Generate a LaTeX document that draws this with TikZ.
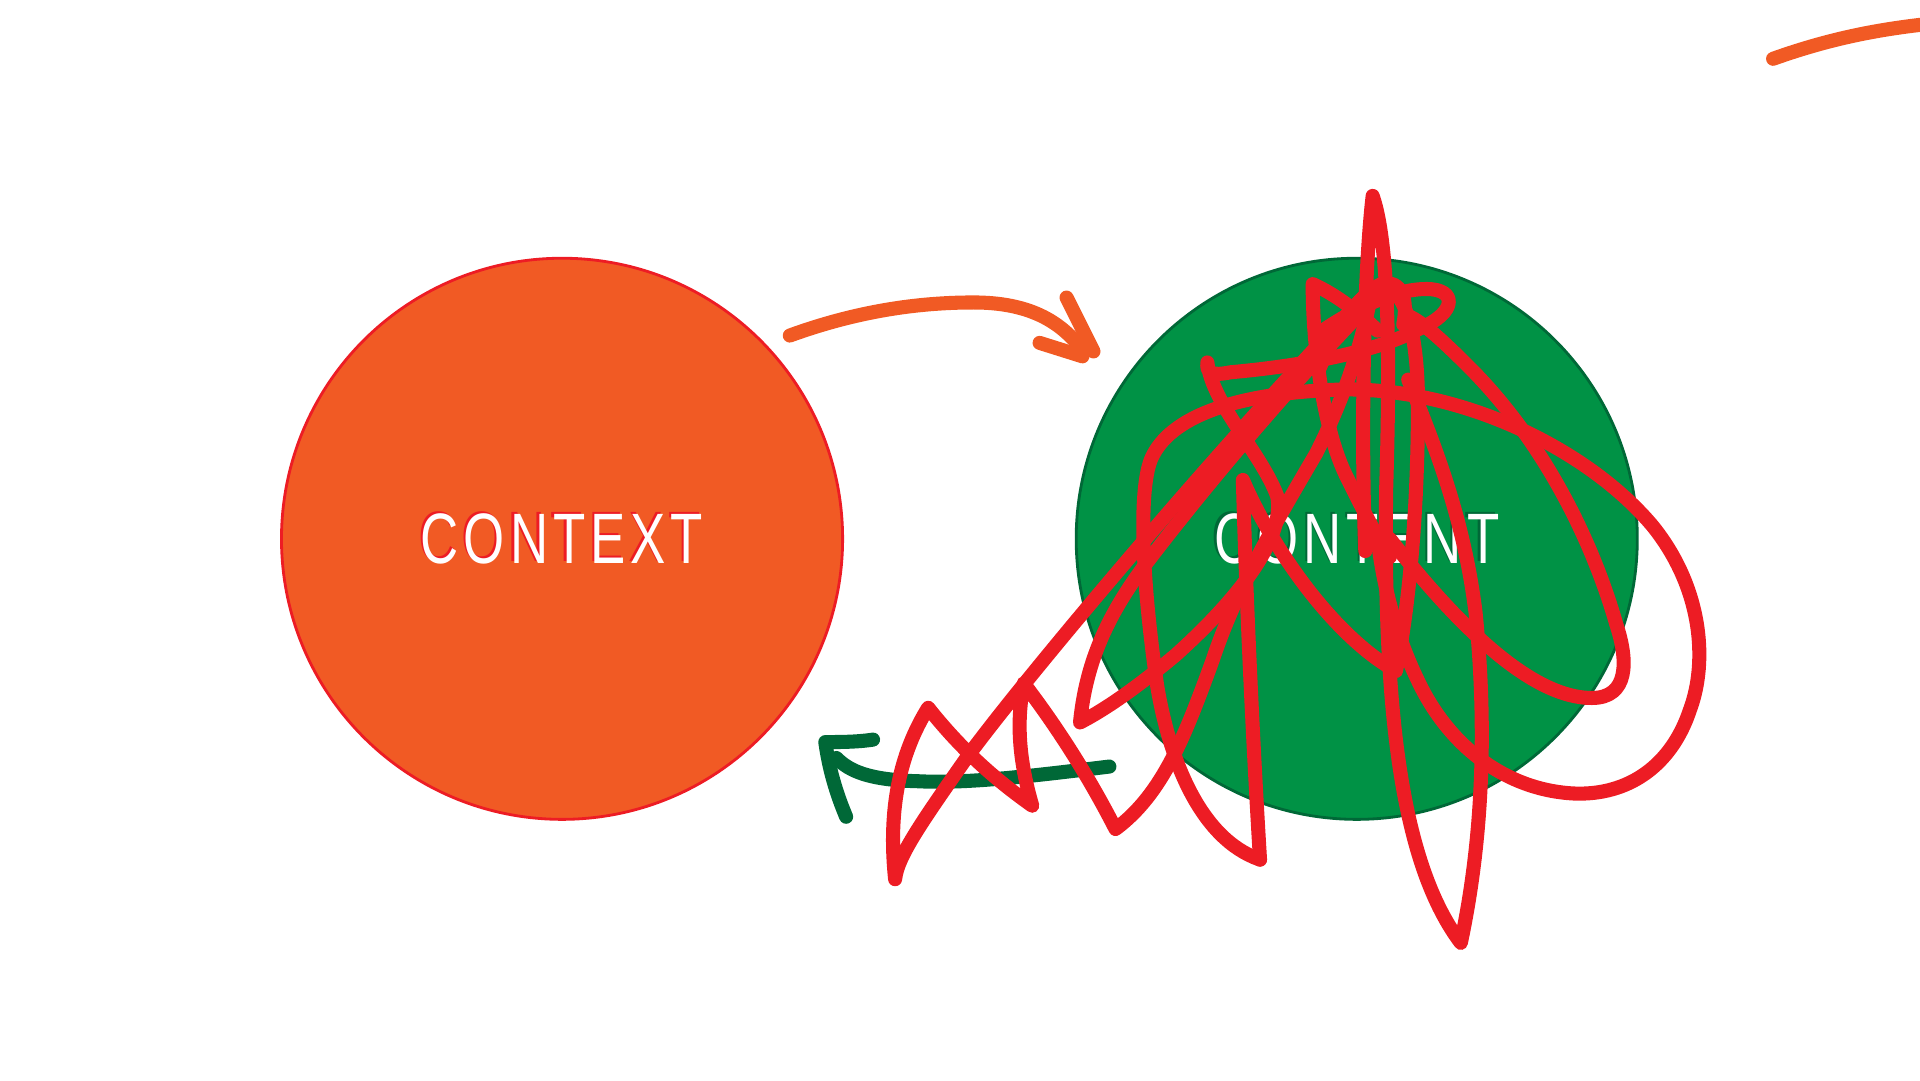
\documentclass[tikz,border=0pt]{standalone}
\usepackage{fontspec}
\newfontfamily\labelfont[FakeStretch=0.74,LetterSpace=7]{Liberation Sans}
\usetikzlibrary{calc}
\definecolor{ctxorange}{HTML}{F15A24}
\definecolor{ctxred}{HTML}{ED1C24}
\definecolor{cntgreen}{HTML}{009245}
\definecolor{cntdark}{HTML}{006837}
\tikzset{
  blob/.style={circle,minimum size=5.608cm,inner sep=0pt,line width=0.8pt},
  word/.style={font=\labelfont\fontsize{20.3}{24}\selectfont,inner sep=0pt},
  sketch/.style={line width=4pt,line cap=round,line join=round},
  scribble/.style={draw=ctxred,line width=4pt,line cap=round,line join=round}
}

\begin{document}
\begin{tikzpicture}[x=0.012245cm,y=-0.012245cm]
  \useasboundingbox (0,0) rectangle (1568,882);
  \node[blob,fill=ctxorange,draw=ctxred] (context) at (459,440) {};
  \node[blob,fill=cntgreen,draw=cntdark] (content) at (1108,440) {};
  \node[word,text=ctxred] at ($(context)+(-1.8,-1.6)$) {CONTEXT};
  \node[word,text=white] (ctxlabel) at (context) {CONTEXT};
  \node[word,text=cntdark] at ($(content)+(-1.8,-1.6)$) {CONTENT};
  \node[word,text=white] (cntlabel) at (content) {CONTENT};

  \coordinate (fwdstart) at (645,274);
  \coordinate (fwdtip) at (884,286);
  \draw[sketch,ctxorange] (fwdstart) .. controls (700,254) and (750,247) .. (795,247)
    .. controls (840,247) and (866,262) .. (fwdtip);
  \draw[sketch,ctxorange] (871,243) -- (893,287);
  \draw[sketch,ctxorange] (849,280) -- (884,291);

  \begin{scope}
    \clip (0,0) rectangle (1568,882);
    \coordinate (farstart) at (1448,48);
    \draw[sketch,ctxorange] (farstart) .. controls (1490,33) and (1530,24) .. (1580,19);
  \end{scope}

  \coordinate (backstart) at (906,626);
  \coordinate (backtip) at (683,619);
  \draw[sketch,cntdark] (backstart) .. controls (840,634) and (790,640) .. (750,638)
    .. controls (710,637) and (694,630) .. (backtip);
  \draw[sketch,cntdark] (713,604) .. controls (700,606) and (685,606) .. (674,606)
    .. controls (677,628) and (683,648) .. (691,667);

  \draw[scribble] (1120,236) .. controls (1000,360) and (840,550) .. (790,618)
    .. controls (750,675) and (733,700) .. (731,718)
    .. controls (725,660) and (735,615) .. (758,578)
    .. controls (785,612) and (812,636) .. (843,658)
    .. controls (832,620) and (830,590) .. (836,558)
    .. controls (862,592) and (888,632) .. (911,677)
    .. controls (950,648) and (968,600) .. (990,540)
    .. controls (1010,480) and (1040,430) .. (1075,370)
    .. controls (1100,320) and (1112,280) .. (1120,240);
  \draw[scribble] (1029,702) .. controls (980,685) and (955,620) .. (945,560)
    .. controls (932,470) and (930,400) .. (940,375)
    .. controls (955,340) and (1010,320) .. (1100,318)
    .. controls (1200,318) and (1300,370) .. (1350,430)
    .. controls (1390,480) and (1395,540) .. (1380,580)
    .. controls (1365,625) and (1330,650) .. (1285,648)
    .. controls (1230,645) and (1185,610) .. (1160,560)
    .. controls (1140,520) and (1130,480) .. (1125,440);
  \draw[scribble] (1029,702) .. controls (1024,620) and (1018,500) .. (1015,392)
    .. controls (1040,450) and (1090,520) .. (1140,548)
    .. controls (1150,500) and (1158,420) .. (1158,330)
    .. controls (1158,280) and (1150,250) .. (1140,240);
  \draw[scribble] (1135,440) .. controls (1190,510) and (1250,570) .. (1300,570)
    .. controls (1330,570) and (1330,540) .. (1320,510)
    .. controls (1300,440) and (1260,360) .. (1200,300)
    .. controls (1175,275) and (1160,262) .. (1150,258);
  \draw[scribble] (1115,450) .. controls (1111,350) and (1114,220) .. (1121,160)
    .. controls (1135,200) and (1135,300) .. (1132,400)
    .. controls (1130,560) and (1140,700) .. (1193,770)
    .. controls (1210,690) and (1215,600) .. (1205,500)
    .. controls (1195,420) and (1170,360) .. (1150,310);
  \draw[scribble] (1080,270) .. controls (1110,250) and (1140,236) .. (1165,236)
    .. controls (1190,236) and (1190,255) .. (1160,268)
    .. controls (1120,290) and (1050,300) .. (1005,304)
    .. controls (990,307) and (985,305) .. (986,296)
    .. controls (990,330) and (1030,370) .. (1043,405)
    .. controls (1050,440) and (1010,490) .. (960,535)
    .. controls (930,560) and (905,578) .. (882,590)
    .. controls (887,540) and (905,500) .. (940,455)
    .. controls (990,390) and (1050,320) .. (1105,262);
  \draw[scribble] (1125,270) .. controls (1110,255) and (1090,240) .. (1072,232)
    .. controls (1072,280) and (1080,350) .. (1100,390)
    .. controls (1115,420) and (1125,440) .. (1135,455);
  \draw[scribble] (1078,300) .. controls (1090,270) and (1110,240) .. (1128,232)
    .. controls (1145,228) and (1150,245) .. (1146,265);
\end{tikzpicture}
\end{document}
